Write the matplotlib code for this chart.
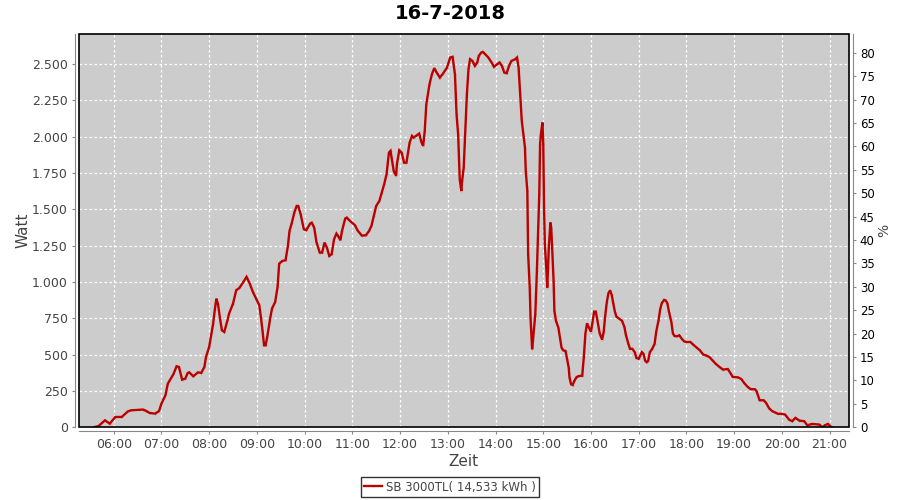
import matplotlib
matplotlib.use("Agg")
import matplotlib.pyplot as plt
from matplotlib.patches import Rectangle
from matplotlib.ticker import FuncFormatter

# readings of the inverter, time of day and power in Watt
times = ["05:35", "05:41", "05:49", "05:55", "06:02", "06:10", "06:18", "06:22", "06:37", "06:41",
         "06:45", "06:52", "06:57", "07:00", "07:05", "07:08", "07:15", "07:19", "07:22", "07:26",
         "07:30", "07:33", "07:35", "07:40", "07:46", "07:50", "07:54", "07:56", "08:00", "08:05",
         "08:07", "08:09", "08:11", "08:14", "08:16", "08:19", "08:23", "08:25", "08:30", "08:34",
         "08:38", "08:43", "08:47", "08:51", "08:55", "08:59", "09:03", "09:05", "09:07", "09:09",
         "09:11", "09:13", "09:17", "09:19", "09:23", "09:26", "09:28", "09:32", "09:36", "09:39",
         "09:41", "09:44", "09:47", "09:50", "09:52", "09:55", "09:59", "10:02", "10:07", "10:09",
         "10:12", "10:15", "10:19", "10:22", "10:25", "10:28", "10:31", "10:34", "10:37", "10:40",
         "10:42", "10:45", "10:47", "10:51", "10:53", "10:57", "11:03", "11:07", "11:12", "11:17",
         "11:21", "11:24", "11:27", "11:30", "11:34", "11:37", "11:40", "11:43", "11:46", "11:48",
         "11:50", "11:52", "11:55", "11:56", "11:59", "12:02", "12:05", "12:08", "12:10", "12:12",
         "12:15", "12:17", "12:20", "12:24", "12:27", "12:29", "12:31", "12:33", "12:35", "12:37",
         "12:40", "12:43", "12:46", "12:50", "12:54", "12:59", "13:03", "13:06", "13:09", "13:11",
         "13:13", "13:15", "13:17", "13:18", "13:20", "13:22", "13:24", "13:26", "13:28", "13:31",
         "13:34", "13:37", "13:39", "13:42", "13:44", "13:47", "13:51", "13:55", "13:58", "14:02",
         "14:05", "14:08", "14:11", "14:14", "14:17", "14:20", "14:25", "14:27", "14:29", "14:31",
         "14:33", "14:35", "14:37", "14:38", "14:40", "14:41", "14:43", "14:44", "14:46", "14:47",
         "14:50", "14:52", "14:53", "14:55", "14:56", "14:57", "14:59", "15:00", "15:01", "15:02",
         "15:04", "15:05", "15:06", "15:07", "15:09", "15:10", "15:11", "15:13", "15:14", "15:16",
         "15:19", "15:21", "15:23", "15:25", "15:28", "15:30", "15:32", "15:33", "15:35", "15:37",
         "15:39", "15:42", "15:45", "15:49", "15:51", "15:53", "15:55", "15:57", "16:00", "16:02",
         "16:04", "16:06", "16:08", "16:11", "16:14", "16:16", "16:18", "16:20", "16:22", "16:24",
         "16:26", "16:28", "16:30", "16:32", "16:35", "16:39", "16:42", "16:44", "16:47", "16:49",
         "16:52", "16:55", "16:57", "17:00", "17:02", "17:04", "17:06", "17:08", "17:10", "17:12",
         "17:14", "17:17", "17:20", "17:22", "17:25", "17:27", "17:29", "17:32", "17:34", "17:36",
         "17:38", "17:41", "17:43", "17:45", "17:48", "17:51", "17:54", "17:57", "18:00", "18:05",
         "18:08", "18:12", "18:17", "18:21", "18:25", "18:29", "18:33", "18:37", "18:42", "18:46",
         "18:52", "18:56", "18:58", "19:05", "19:09", "19:13", "19:17", "19:21", "19:26", "19:28",
         "19:32", "19:37", "19:40", "19:44", "19:48", "19:55", "19:59", "20:04", "20:09", "20:13",
         "20:17", "20:22", "20:28", "20:32", "20:38", "20:47", "20:51", "20:54", "20:58", "21:01",
         "21:03"]
watt = [0, 9, 48, 25, 71, 71, 110, 117, 122, 112,
        99, 94, 112, 163, 220, 300, 365, 420, 415, 328,
        335, 374, 378, 351, 378, 374, 415, 484, 553, 713,
        805, 885, 851, 736, 667, 656, 736, 782, 851, 943,
        959, 1000, 1035, 989, 931, 885, 840, 759, 668, 564,
        564, 622, 759, 817, 863, 966, 1126, 1145, 1149, 1248,
        1351, 1408, 1477, 1523, 1523, 1466, 1363, 1356, 1402, 1408,
        1374, 1271, 1202, 1202, 1271, 1236, 1179, 1191, 1294, 1333,
        1317, 1287, 1351, 1436, 1443, 1420, 1392, 1351, 1319, 1321,
        1351, 1386, 1454, 1523, 1558, 1615, 1672, 1741, 1890, 1902,
        1833, 1764, 1730, 1810, 1906, 1890, 1821, 1821, 1890, 1959,
        2005, 1993, 2005, 2021, 1959, 1936, 2039, 2223, 2292, 2361,
        2429, 2471, 2441, 2406, 2434, 2475, 2544, 2549, 2429, 2154,
        2016, 1707, 1626, 1695, 1787, 2039, 2292, 2464, 2533, 2521,
        2487, 2510, 2556, 2578, 2583, 2567, 2544, 2510, 2480, 2498,
        2510, 2487, 2441, 2436, 2487, 2521, 2533, 2544, 2475, 2292,
        2108, 2016, 1925, 1764, 1626, 1191, 961, 755, 537, 594,
        778, 1076, 1259, 1603, 1948, 2016, 2097, 1948, 1512, 1259,
        1076, 961, 1099, 1236, 1409, 1374, 1259, 1007, 801, 732,
        686, 617, 548, 530, 525, 468, 411, 342, 296, 291,
        319, 346, 353, 355, 483, 645, 715, 691, 657, 726,
        796, 796, 738, 645, 603, 657, 773, 865, 923, 942,
        912, 854, 796, 761, 749, 733, 691, 633, 575, 540,
        540, 517, 478, 471, 494, 517, 506, 459, 448, 459,
        517, 540, 575, 657, 738, 812, 854, 877, 872, 854,
        796, 726, 645, 629, 626, 633, 610, 592, 587, 587,
        571, 552, 529, 501, 494, 483, 459, 436, 413, 397,
        401, 367, 348, 343, 332, 302, 278, 262, 262, 250,
        186, 186, 169, 130, 111, 93, 93, 88, 53, 42,
        65, 46, 42, 14, 23, 19, 0, 14, 23, 7,
        0]

title = "16-7-2018"
series_name = "SB 3000TL( 14,533 kWh )"
hour_ticks = list(range(6, 22))
pct_ticks = list(range(0, 85, 5))

hours = [int(t[:2]) + int(t[3:]) / 60 for t in times]

fig = plt.figure(figsize=(9, 5), dpi=100)
ax = fig.add_axes([0.0878, 0.1454, 0.8552, 0.7866])
ax.set_facecolor("#cccccc")

ax.plot(hours, watt, color="#bb0000", lw=1.7, label=series_name,
        marker="o", markersize=0.1, solid_joinstyle="miter")

ax.set_xlim(5.273, 21.40)
ax.set_ylim(0, 2706)
ax.set_xticks(hour_ticks)
ax.set_xticklabels(["%02d:00" % h for h in hour_ticks])
ax.set_yticks(range(0, 2501, 250))
ax.yaxis.set_major_formatter(FuncFormatter(lambda v, p: f"{int(v):,}".replace(",", ".")))
ax.grid(True, color="white", linestyle=(0, (2, 2)), linewidth=0.9)
ax.set_axisbelow(True)

for s in ["left", "bottom"]:
    ax.spines[s].set_position(("outward", 3))
    ax.spines[s].set_color("#888888")
ax.spines["top"].set_visible(False)
ax.spines["right"].set_visible(False)
ax.add_patch(Rectangle((0, 0), 1, 1, transform=ax.transAxes, fill=False,
                       edgecolor="black", lw=1.2, zorder=5, clip_on=False))
ax.tick_params(axis="both", direction="out", length=2, color="#888888",
               labelsize=9, labelcolor="#444444", pad=3)

ax.set_xlabel("Zeit", fontsize=11, color="#444444", labelpad=2)
ax.set_ylabel("Watt", fontsize=11, color="#444444", labelpad=1)

ax2 = ax.twinx()
ax2.set_ylim(0, 84.0)
ax2.set_yticks(pct_ticks)
for s in ["left", "bottom", "top"]:
    ax2.spines[s].set_visible(False)
ax2.spines["right"].set_position(("outward", 3))
ax2.spines["right"].set_color("#888888")
ax2.tick_params(axis="y", direction="out", length=2, color="#888888",
                labelsize=8.5, labelcolor="black", pad=3)
ax2.set_ylabel("%", fontsize=10, color="#444444", labelpad=2)

fig.suptitle(title, fontsize=14, fontweight="bold", y=0.992)

leg = fig.legend(loc="center", bbox_to_anchor=(0.5, 0.026), fontsize=8.5,
                 frameon=True, fancybox=False, handlelength=1.5,
                 borderpad=0.3, handletextpad=0.3, borderaxespad=0)
leg.get_frame().set_edgecolor("black")
leg.get_frame().set_linewidth(1.0)
for t in leg.get_texts():
    t.set_color("#444444")

fig.savefig("out.png", dpi=100)
